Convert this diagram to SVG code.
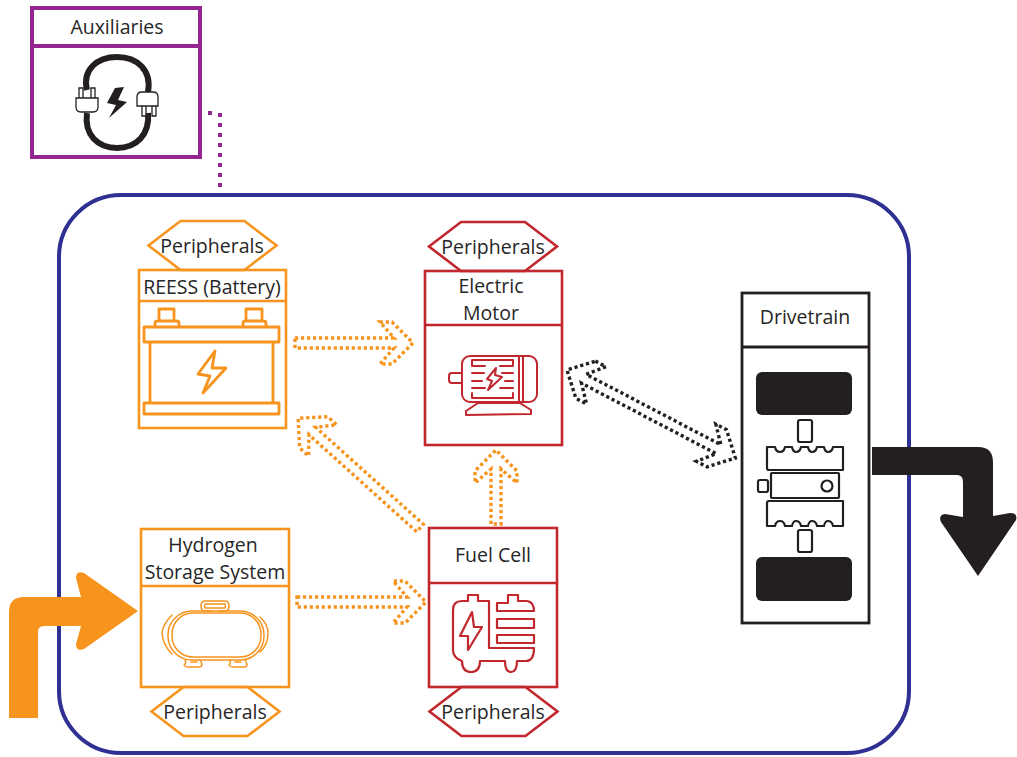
<svg xmlns="http://www.w3.org/2000/svg" width="1017" height="757" viewBox="0 0 1017 757">
<style>
text{font-family:"Open Sans","Noto Sans","Liberation Sans",sans-serif;font-size:19.500px;fill:#262626;text-anchor:middle}
.o{fill:none;stroke:#f7941d;stroke-width:2.600}
.r{fill:none;stroke:#c1272d;stroke-width:2.600}
.ot{fill:none;stroke:#f7941d;stroke-width:2;stroke-linejoin:round;stroke-linecap:round}
.rt{fill:none;stroke:#c1272d;stroke-width:2;stroke-linejoin:round;stroke-linecap:round}
.k{fill:none;stroke:#231f20;stroke-width:2.800}
.kt{fill:none;stroke:#231f20;stroke-width:2.200;stroke-linejoin:round}
.fk{fill:#231f20}
.da{fill:none;stroke:#f7941d;stroke-width:3.400;stroke-dasharray:3.200 2.800}
.db{fill:none;stroke:#231f20;stroke-width:3.400;stroke-dasharray:3.200 2.800}
</style>
<defs>
<path id="hex" d="M-64,0 L-32,-24.500 H32 L64,0 L32,24.500 H-32 Z"/>
</defs>
<g id="system-boundary"><rect x="59" y="195" width="850" height="558" rx="62" fill="none" stroke="#2e3192" stroke-width="4"/></g>
<g id="auxiliaries">
<rect x="32" y="8" width="168" height="149" fill="none" stroke="#93278f" stroke-width="4"/>
<line x1="32" y1="46" x2="200" y2="46" stroke="#93278f" stroke-width="4"/>
<text x="117" y="34">Auxiliaries</text>
<path d="M87,90 C82,70 97,57 117,57 C137,57 152,70 148,92 M87,113 C84,135 98,148 117,148 C136,148 150,135 148,113" fill="none" stroke="#231f20" stroke-width="6"/>
<path d="M79,88 H83 V98 H79 Z M91,88 H95 V98 H91 Z M76,98 H98 V107 Q98,112 93,112 H81 Q76,112 76,107 Z M142,106 H146 V116 H142 Z M152,106 H156 V116 H152 Z M137,97 Q137,92 142,92 H153 Q158,92 158,97 V106 H137 Z" fill="#fff" stroke="#231f20" stroke-width="1.300"/>
<path d="M124,87 L118,100 L127,102 L109,118 L116,105 L107,103 L115,88 Z" fill="#231f20"/>
</g>
<g id="reess">
<use href="#hex" x="212.500" y="245.500" class="o"/>
<text x="212" y="253">Peripherals</text>
<rect x="139" y="270" width="147" height="158" class="o"/>
<line x1="139" y1="301" x2="286" y2="301" class="o"/>
<text x="212" y="294">REESS (Battery)</text>
<path d="M144,327 H279 V342 H144 Z M150,342 V403 M273,342 V403 M144,403 H279 V414 H144 Z M159,321 V309 H174 V321 M155,327 V323 Q155,321 158,321 H176 Q179,321 179,323 V327 M246,321 V309 H262 V321 M243,327 V323 Q243,321 246,321 H263 Q266,321 266,323 V327" class="ot" style="stroke-width:2.800"/>
<path d="M215,351 L198,374 L210,376 L203,393 L226,368 L212,368 Z" class="ot" style="stroke-width:2.800"/>
</g>
<g id="electric-motor">
<use href="#hex" x="493" y="246.500" class="r"/>
<text x="493" y="254">Peripherals</text>
<rect x="425" y="271" width="137" height="174" class="r"/>
<line x1="425" y1="325" x2="562" y2="325" class="r"/>
<text x="491" y="293">Electric</text>
<text x="491" y="320">Motor</text>
<rect x="462" y="356" width="75" height="46" rx="8" class="rt"/>
<path d="M519,356 V402 M523,356 V402 M462,373 H452 Q449,373 449,376 V380 Q449,383 452,383 H462 M472,360 H513 M472,398 H513 M472,360 V365 M513,360 V365 M472,366 H485 M500,366 H513 M472,373 H484 M502,373 H513 M472,381 H482 M505,381 H513 M472,388 H485 M500,388 H513 M472,398 V393 M513,398 V393 M466,415 V411 L478,403 H520 L531,410 V414 Z" class="rt"/>
<path d="M496,368 L487,379 L492,381 L488,390 L502,377 L495,375 Z" class="rt"/>
</g>
<g id="hydrogen-storage">
<use href="#hex" x="215.500" y="711.500" class="o"/>
<text x="215" y="719">Peripherals</text>
<rect x="141" y="529" width="148" height="158" class="o"/>
<line x1="141" y1="586" x2="289" y2="586" class="o"/>
<text x="213" y="552">Hydrogen</text>
<text x="215" y="579">Storage System</text>
<rect x="168" y="611" width="96" height="49" rx="24" class="ot" style="stroke-width:1.500"/>
<rect x="172" y="613" width="89" height="44" rx="21" class="ot" style="stroke-width:1.500"/>
<path d="M172,615 Q163,624 162,633 Q163,645 172,654 M260,617 Q268,624 268,633 Q268,645 260,652 M212,611 H205 Q201,611 201,606 Q201,601 205,601 H225 Q229,601 229,606 Q229,611 225,611 H219 M205,604 H225 Q226,606 225,608 H205 Q204,606 205,604 Z M185,660 Q187,663 184,665 Q185,667 188,667 H199 Q202,667 202,664 L200,660 M230,660 Q231,663 229,665 Q230,667 233,667 H244 Q247,667 247,664 L245,660 M191,662 H197 M235,662 H241" class="ot" style="stroke-width:1.500"/>
</g>
<g id="fuel-cell">
<use href="#hex" x="493.500" y="711.500" class="r"/>
<text x="493" y="719">Peripherals</text>
<rect x="429" y="528" width="128" height="159" class="r"/>
<line x1="429" y1="583" x2="557" y2="583" class="r"/>
<text x="493" y="562">Fuel Cell</text>
<path d="M468,601 V595 H478 V601 H489 V648 H534 Q534,661 526,661 H517 Q517,672 511,672 Q505,672 505,661 H480 Q480,672 471,672 Q462,672 462,661 Q453,658 453,650 V610 Q453,601 462,601 Z" class="rt" style="stroke-width:2.200"/>
<path d="M472,612 L460,636 L468,636 L468,650 L482,627 L474,627 Z" class="rt" style="stroke-width:2.200"/>
<path d="M497,603 H508 V595 H518 V601 H527 Q534,602 534,611 H497 Z" class="rt" style="stroke-width:2.200"/>
<rect x="497" y="619" width="37" height="9" class="rt" style="stroke-width:2.200"/>
<rect x="497" y="635" width="37" height="8" class="rt" style="stroke-width:2.200"/>
</g>
<g id="drivetrain">
<rect x="742" y="293" width="127" height="330" class="k"/>
<line x1="742" y1="347" x2="869" y2="347" class="k"/>
<text x="805" y="324">Drivetrain</text>
<rect x="756" y="372" width="96" height="43" rx="6" class="fk"/>
<rect x="756" y="557" width="96" height="44" rx="6" class="fk"/>
<rect x="798" y="420" width="14" height="22" rx="2" class="kt"/>
<rect x="798" y="530" width="14" height="22" rx="2" class="kt"/>
<path d="M767,468 V447 H775 Q776,452 780,452 Q784,452 785,447 H792 Q793,452 796,452 Q800,452 801,447 H808 Q809,452 812,452 Q816,452 817,447 H824 Q825,452 828,452 Q832,452 833,447 H843 V470 H769 Q767,470 767,468 Z" class="kt"/>
<path d="M767,503 V526 H775 Q776,521 780,521 Q784,521 785,526 H792 Q793,521 796,521 Q800,521 801,526 H808 Q809,521 812,521 Q816,521 817,526 H824 Q825,521 828,521 Q832,521 833,526 H843 V501 H769 Q767,501 767,503 Z" class="kt"/>
<rect x="771" y="473" width="68" height="25" rx="1" class="kt"/>
<rect x="758" y="480" width="10" height="12" rx="2" class="kt"/>
<circle cx="827" cy="486" r="5.500" class="kt"/>
</g>
<g id="connectors">
<path d="M208,113 H213 M220,113 V187" fill="none" stroke="#93278f" stroke-width="4" stroke-dasharray="4 6"/>
<path class="da" transform="translate(295,343)" d="M0,-5 H99 L85,-21 H97 L118,0 L97,21 H85 L99,5 H0 Z"/>
<path class="da" transform="translate(297,602)" d="M0,-5 H110 L96,-21 H108 L129,0 L108,21 H96 L110,5 H0 Z"/>
<path class="da" transform="translate(496,524) rotate(-90)" d="M0,-5 H55 L41,-21 H53 L74,0 L53,21 H41 L55,5 H0 Z"/>
<path class="da" transform="translate(420,528) rotate(-138)" d="M0,-5 H145 L131,-21 H143 L164,0 L143,21 H131 L145,5 H0 Z"/>
<path class="db" transform="translate(567,370) rotate(27.600)" d="M21,-21 H33 L19,-5 H171 L157,-21 H169 L190,0 L169,21 H157 L171,5 H19 L33,21 H21 L0,0 Z"/>
<path d="M9,718 V612 Q9,597 24,597 H81 L76,578 Q76,570 84,573 L138,611 L84,649 Q76,652 76,644 L81,626 H44 Q38,626 38,632 V718 Z" fill="#f7941d"/>
<path d="M872,447 H978 Q993,447 993,462 V516 L1010,513 Q1018,513 1016,520 L978,576 L941,522 Q938,515 945,514 L963,517 V482 Q963,475 957,475 H872 Z" fill="#231f20"/>
</g>
</svg>
